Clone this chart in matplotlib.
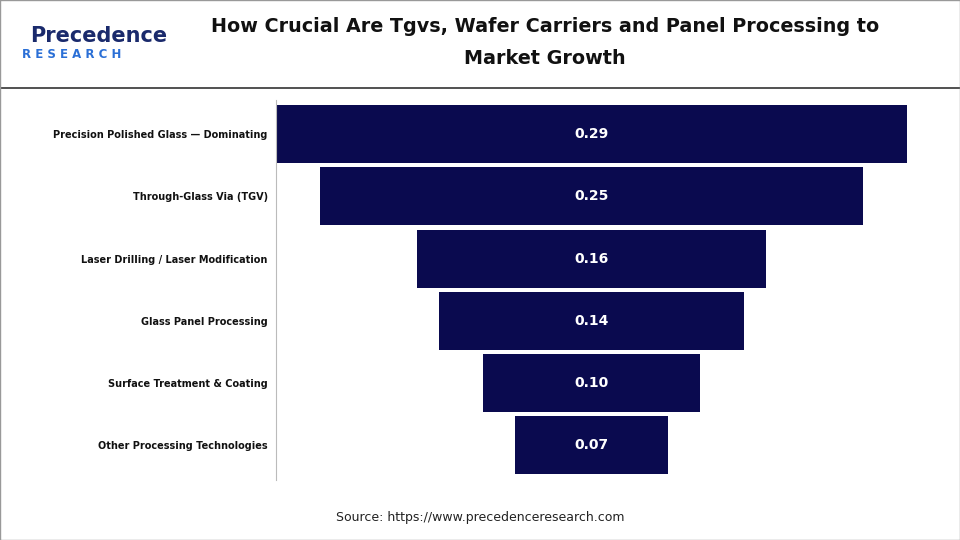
import matplotlib
matplotlib.use("Agg")
import matplotlib.pyplot as plt
from matplotlib.lines import Line2D

categories = ["Precision Polished Glass \u2014 Dominating", "Through-Glass Via (TGV)",
              "Laser Drilling / Laser Modification", "Glass Panel Processing",
              "Surface Treatment & Coating", "Other Processing Technologies"]
values = [0.29, 0.25, 0.16, 0.14, 0.10, 0.07]
value_labels = ["0.29", "0.25", "0.16", "0.14", "0.10", "0.07"]

W, H = 960, 540
NAVY = "#0a0a4f"
fig = plt.figure(figsize=(W / 100, H / 100), dpi=100)
fig.patch.set_facecolor("white")

# header
fig.text(545 / W, 1 - 27 / H, "How Crucial Are Tgvs, Wafer Carriers and Panel Processing to",
         ha="center", va="center", fontsize=13.8, fontweight="bold", color="#111")
fig.text(545 / W, 1 - 59 / H, "Market Growth",
         ha="center", va="center", fontsize=13.8, fontweight="bold", color="#111")
fig.text(30 / W, 1 - 36 / H, "Precedence", ha="left", va="center", fontsize=15,
         fontweight="bold", color="#1a2a6c")
fig.text(22 / W, 1 - 54 / H, "R E S E A R C H", ha="left", va="center", fontsize=8.5,
         fontweight="bold", color="#2a6fd6")
fig.add_artist(Line2D([0, 1], [1 - 88 / H] * 2, color="#333", lw=1.2))
fig.add_artist(Line2D([0, 1, 1, 0, 0], [0, 0, 1, 1, 0], color="#999", lw=1))

# funnel axes: pixels x 276..907, y 100..480
ax = fig.add_axes([276 / W, 1 - 480 / H, (907 - 276) / W, 380 / H])
ys = range(len(categories))
ax.barh(ys, values, left=[-v / 2 for v in values], height=0.93, color=NAVY)
for y, v, lbl in zip(ys, values, value_labels):
    ax.text(0.0, y, lbl, ha="center", va="center", color="white",
            fontsize=10, fontweight="bold")
ax.set_xlim(-0.145, 0.145)
ax.set_ylim(5.56, -0.55)
ax.set_yticks(list(ys))
ax.set_yticklabels(categories, fontsize=7, fontweight="bold", color="#111")
ax.tick_params(axis="y", length=0, pad=6)
ax.set_xticks([])
for s in ["top", "right", "bottom"]:
    ax.spines[s].set_visible(False)
ax.spines["left"].set_color("#bbb")

fig.text(480 / W, 1 - 517 / H, "Source: https://www.precedenceresearch.com",
         ha="center", va="center", fontsize=9, color="#222")

fig.savefig("out.png", dpi=100)
